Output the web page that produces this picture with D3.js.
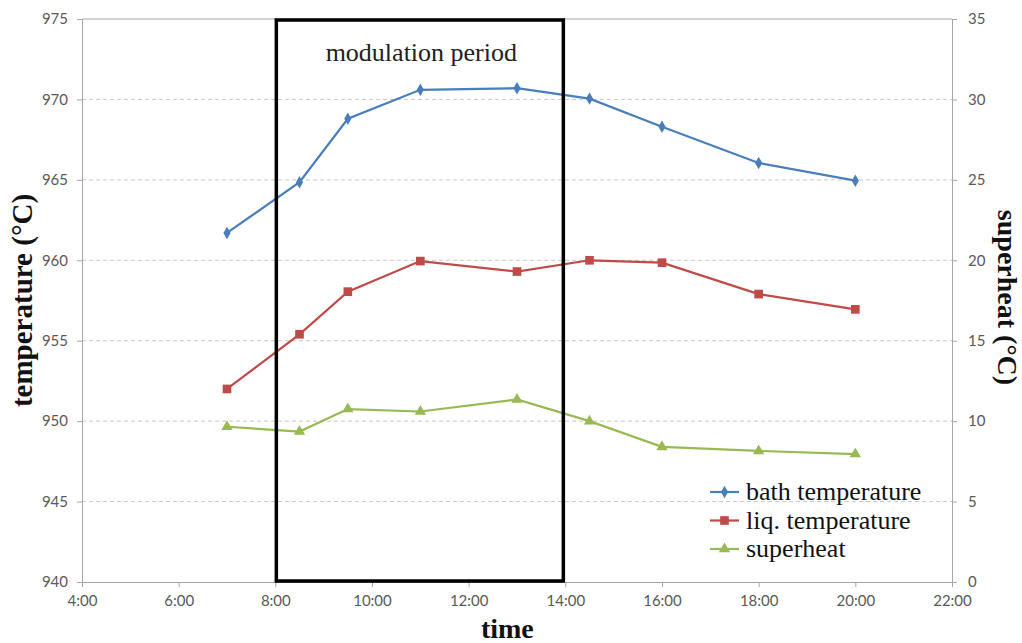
<!DOCTYPE html>
<html>
<head>
<meta charset="utf-8">
<script src="https://cdn.jsdelivr.net/npm/d3@7"></script>
<style>
  body { margin: 0; background: #fff; }
  svg { display: block; }
</style>
</head>
<body>
<div id="chart"></div>
<script>
// Measurement times
const times = ['7:00', '8:30', '9:30', '11:00', '13:00', '14:30', '16:00', '18:00', '20:00'];

// Series values
const bathTemp = [961.7, 964.85, 968.8, 970.6, 970.7, 970.05, 968.3, 966.05, 964.95];
const liqTemp = [952.0, 955.4, 958.05, 959.95, 959.3, 960.0, 959.85, 957.9, 956.95];
const superheat = [9.65, 9.35, 10.75, 10.6, 11.35, 10.0, 8.4, 8.15, 7.95];

// Axis ticks
const xTicks = [4, 6, 8, 10, 12, 14, 16, 18, 20, 22];
const leftTicks = [940, 945, 950, 955, 960, 965, 970, 975];
const rightTicks = [0, 5, 10, 15, 20, 25, 30, 35];

// Modulation period (hours)
const modulationPeriod = [8, 14];

const toHours = t => { const [h, m] = t.split(':').map(Number); return h + m / 60; };

const W = 1022, H = 643;
const margin = { top: 19, right: 70, bottom: 61, left: 82 };
const width = W - margin.left - margin.right;
const height = H - margin.top - margin.bottom;

const svg = d3.select('#chart').append('svg')
  .attr('width', W)
  .attr('height', H);

const g = svg.append('g')
  .attr('transform', `translate(${margin.left},${margin.top})`);

// Scales
const x = d3.scaleLinear().domain([4, 22]).range([0, width]);
const yL = d3.scaleLinear().domain([940, 975]).range([height, 0]);
const yR = d3.scaleLinear().domain([0, 35]).range([height, 0]);

const axisColor = '#a6a6a6';
const tickFont = 'Lato, "Open Sans", sans-serif';
const serif = '"Liberation Serif", "Times New Roman", serif';

// Grid (dashed) lines
g.append('g')
  .selectAll('line')
  .data(leftTicks.slice(1, -1))
  .join('line')
  .attr('x1', 0)
  .attr('x2', width)
  .attr('y1', d => yL(d))
  .attr('y2', d => yL(d))
  .attr('stroke', '#c8c8c8')
  .attr('stroke-width', 1)
  .attr('stroke-dasharray', '4,3');

// Top border
g.append('line')
  .attr('x1', 0).attr('x2', width)
  .attr('y1', yL(975)).attr('y2', yL(975))
  .attr('stroke', axisColor);

// Axes
function styleAxis(sel) {
  sel.select('.domain').attr('stroke', axisColor);
  sel.selectAll('.tick line').attr('stroke', axisColor);
  sel.selectAll('.tick text')
    .attr('fill', '#595959')
    .attr('font-family', tickFont)
    .attr('font-size', 15);
}

g.append('g')
  .attr('transform', `translate(0,${height})`)
  .call(d3.axisBottom(x).tickValues(xTicks).tickFormat(d => d + ':00').tickSizeOuter(0).tickSize(5).tickPadding(8))
  .call(styleAxis);

g.append('g')
  .call(d3.axisLeft(yL).tickValues(leftTicks).tickSizeOuter(0).tickSize(5).tickPadding(9))
  .call(styleAxis);

g.append('g')
  .attr('transform', `translate(${width},0)`)
  .call(d3.axisRight(yR).tickValues(rightTicks).tickSizeOuter(0).tickSize(5).tickPadding(11))
  .call(styleAxis);

// Axis titles
svg.append('text')
  .attr('x', margin.left + x(12.8))
  .attr('y', 638)
  .attr('text-anchor', 'middle')
  .attr('font-family', serif)
  .attr('font-weight', 'bold')
  .attr('font-size', 28)
  .attr('fill', '#111')
  .text('time');

svg.append('text')
  .attr('transform', `translate(32,${margin.top + height / 2}) rotate(-90)`)
  .attr('text-anchor', 'middle')
  .attr('font-family', serif)
  .attr('font-weight', 'bold')
  .attr('font-size', 29)
  .attr('fill', '#111')
  .text('temperature (°C)');

svg.append('text')
  .attr('transform', `translate(998,${margin.top + height / 2 - 3}) rotate(90)`)
  .attr('text-anchor', 'middle')
  .attr('font-family', serif)
  .attr('font-weight', 'bold')
  .attr('font-size', 28)
  .attr('fill', '#111')
  .text('superheat (°C)');

// Series
const series = [
  { name: 'bath temperature', values: bathTemp, scale: yL, color: '#4a7ebb', symbol: d3.symbolDiamond, size: 45 },
  { name: 'liq. temperature', values: liqTemp, scale: yL, color: '#be4b48', symbol: d3.symbolSquare, size: 75 },
  { name: 'superheat', values: superheat, scale: yR, color: '#98b954', symbol: d3.symbolTriangle, size: 55 }
];

series.forEach(s => {
  const pts = times.map((t, i) => ({ t: toHours(t), v: s.values[i] }));
  const line = d3.line().x(d => x(d.t)).y(d => s.scale(d.v));
  g.append('path')
    .datum(pts)
    .attr('d', line)
    .attr('fill', 'none')
    .attr('stroke', s.color)
    .attr('stroke-width', 2.2);
  g.append('g')
    .selectAll('path')
    .data(pts)
    .join('path')
    .attr('transform', d => `translate(${x(d.t)},${s.scale(d.v)})`)
    .attr('d', d3.symbol().type(s.symbol).size(s.size))
    .attr('fill', s.color);
});

// Modulation period box
g.append('rect')
  .attr('x', x(modulationPeriod[0]) + 1)
  .attr('y', 1)
  .attr('width', x(modulationPeriod[1]) - x(modulationPeriod[0]) - 3)
  .attr('height', height - 2)
  .attr('fill', 'none')
  .attr('stroke', '#000')
  .attr('stroke-width', 3.5);

g.append('text')
  .attr('x', (x(modulationPeriod[0]) + x(modulationPeriod[1])) / 2 + 1)
  .attr('y', 42)
  .attr('text-anchor', 'middle')
  .attr('font-family', serif)
  .attr('font-size', 26)
  .attr('fill', '#222')
  .text('modulation period');

// Legend
const legend = g.append('g')
  .attr('transform', `translate(${710 - margin.left},${492 - margin.top})`);

series.forEach((s, i) => {
  const row = legend.append('g').attr('transform', `translate(0,${i * 28.5})`);
  row.append('line')
    .attr('x1', 0).attr('x2', 29)
    .attr('stroke', s.color)
    .attr('stroke-width', 2.2);
  row.append('path')
    .attr('transform', 'translate(14.5,0)')
    .attr('d', d3.symbol().type(s.symbol).size(s.size))
    .attr('fill', s.color);
  row.append('text')
    .attr('x', 36)
    .attr('y', 8)
    .attr('font-family', serif)
    .attr('font-size', 26)
    .attr('fill', '#111')
    .text(s.name);
});
</script>
</body>
</html>
